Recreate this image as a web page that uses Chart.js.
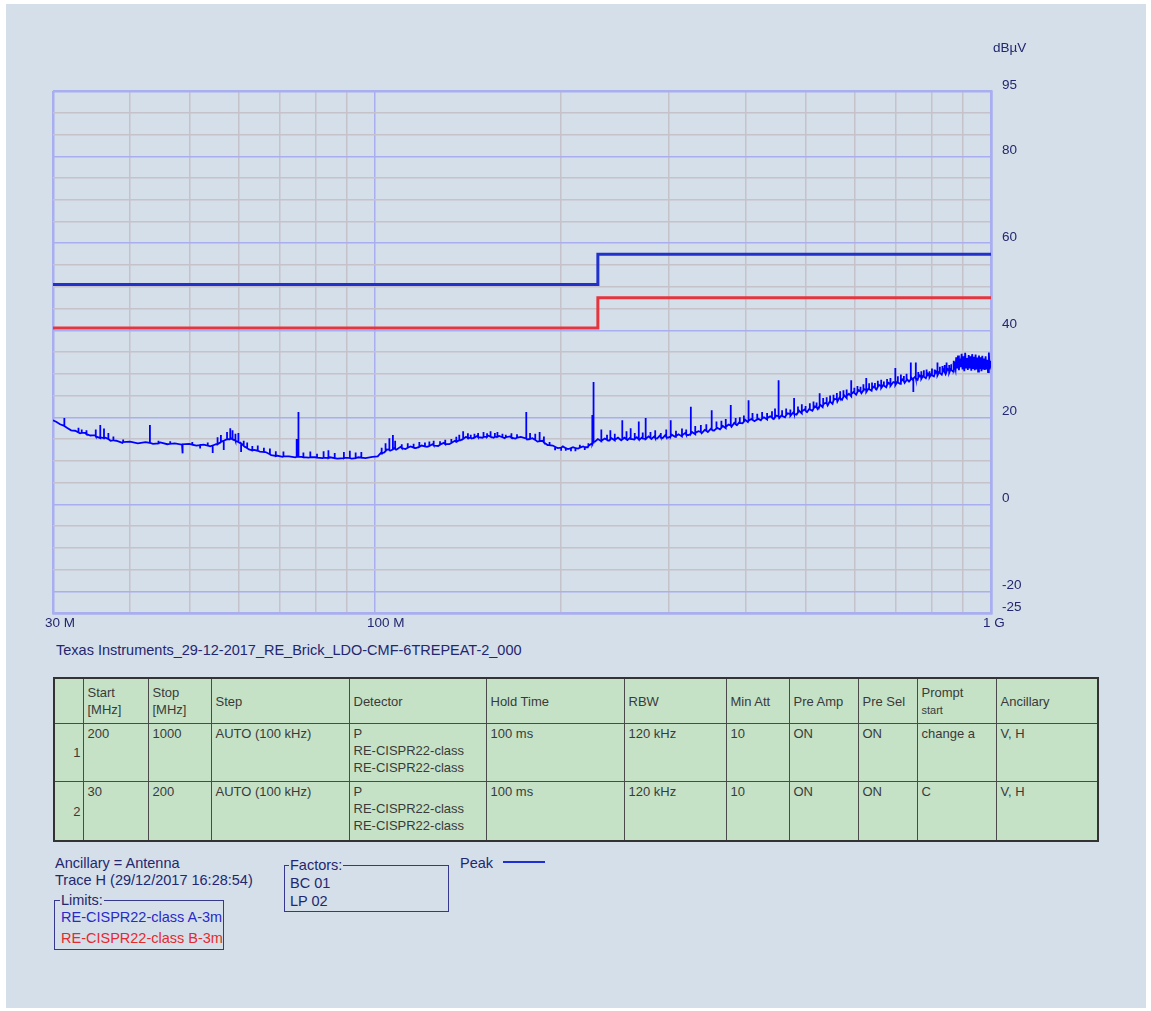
<!DOCTYPE html>
<html>
<head>
<meta charset="utf-8">
<title>RE scan</title>
<script src="https://cdn.jsdelivr.net/npm/chart.js@4.4.1/dist/chart.umd.min.js"></script>
<style>
  html, body { margin: 0; padding: 0; background: #fff; }
  body { width: 1151px; height: 1011px; position: relative; overflow: hidden; font-family: "Liberation Sans", Arial, sans-serif; }
  #page { position: absolute; left: 6px; top: 4px; width: 1140px; height: 1004px; background: #d5dfe9; }
  #emc { position: absolute; left: 0; top: 0; }
  .txt { position: absolute; color: #23276f; font-size: 14.5px; line-height: 17px; white-space: nowrap; }
  #unit { left: 993px; top: 39px; font-size: 13.5px; }
  #runName { left: 56px; top: 642px; }
  #setup { position: absolute; left: 53px; top: 677px; width: 1045px; table-layout: fixed; border-collapse: collapse;
           background: #c5e2c7; border: 2px solid #333; font-size: 13px; color: #3a3a3a; }
  #setup th, #setup td { border: 1px solid #4a4a4a; text-align: left; font-weight: normal; padding: 1px 4px; line-height: 17px; white-space: nowrap; overflow: hidden; }
  #setup th { height: 42px; vertical-align: middle; }
  #setup td { vertical-align: top; }
  #setup tr.r1 td { height: 55px; }
  #setup tr.r2 td { height: 56px; }
  #setup td.n { text-align: right; vertical-align: middle; padding-right: 2px; }
  #setup small { font-size: 11px; line-height: 11px; }
  .box { position: absolute; border: 1.5px solid #35388c; }
  .boxTitle { position: absolute; top: -9px; background: #d5dfe9; padding: 0 1px; color: #23276f; font-size: 14.5px; line-height: 17px; }
  #peakLine { position: absolute; left: 503px; top: 861px; width: 42px; height: 2px; background: #1f2fd8; }
</style>
</head>
<body>
<div id="page"></div>
<canvas id="emc" width="1151" height="640"></canvas>
<div class="txt" id="unit">dBµV</div>
<div class="txt" id="runName">Texas Instruments_29-12-2017_RE_Brick_LDO-CMF-6TREPEAT-2_000</div>

<table id="setup">
  <colgroup>
    <col style="width:29px"><col style="width:65px"><col style="width:63px"><col style="width:138px">
    <col style="width:137px"><col style="width:138px"><col style="width:102px"><col style="width:63px">
    <col style="width:69px"><col style="width:59px"><col style="width:79px"><col style="width:102px">
  </colgroup>
  <tr>
    <th></th><th>Start<br>[MHz]</th><th>Stop<br>[MHz]</th><th>Step</th><th>Detector</th><th>Hold Time</th>
    <th>RBW</th><th>Min Att</th><th>Pre Amp</th><th>Pre Sel</th><th>Prompt<br><small>start</small></th><th>Ancillary</th>
  </tr>
  <tr class="r1">
    <td class="n">1</td><td>200</td><td>1000</td><td>AUTO (100 kHz)</td><td>P<br>RE-CISPR22-class<br>RE-CISPR22-class</td>
    <td>100 ms</td><td>120 kHz</td><td>10</td><td>ON</td><td>ON</td><td>change a</td><td>V, H</td>
  </tr>
  <tr class="r2">
    <td class="n">2</td><td>30</td><td>200</td><td>AUTO (100 kHz)</td><td>P<br>RE-CISPR22-class<br>RE-CISPR22-class</td>
    <td>100 ms</td><td>120 kHz</td><td>10</td><td>ON</td><td>ON</td><td>C</td><td>V, H</td>
  </tr>
</table>

<div class="txt" style="left:55px; top:855px;">Ancillary = Antenna</div>
<div class="txt" style="left:55px; top:872px;">Trace H (29/12/2017 16:28:54)</div>

<div class="box" style="left:54px; top:900px; width:168px; height:48px;">
  <span class="boxTitle" style="left:5px;">Limits:</span>
  <div class="txt" style="left:6px; top:8px; color:#2a2ac8;">RE-CISPR22-class A-3m</div>
  <div class="txt" style="left:6px; top:29px; color:#e42a2e;">RE-CISPR22-class B-3m</div>
</div>

<div class="box" style="left:284px; top:865px; width:163px; height:45px;">
  <span class="boxTitle" style="left:4px;">Factors:</span>
  <div class="txt" style="left:5px; top:9px;">BC 01</div>
  <div class="txt" style="left:5px; top:27px;">LP 02</div>
</div>

<div class="txt" style="left:460px; top:855px;">Peak</div>
<div id="peakLine"></div>

<script>
// Ejes: frecuencia en MHz (log), nivel en dBµV
const freqGrid = [30, 40, 50, 60, 70, 80, 90, 100, 200, 300, 400, 500, 600, 700, 800, 900, 1000]
const freqLabels = { 30: "30 M", 100: "100 M", 1000: "1 G" }
const levelGrid = [-25, -20, -15, -10, -5, 0, 5, 10, 15, 20, 25, 30, 35, 40, 45, 50, 55, 60, 65, 70, 75, 80, 85, 90, 95]
const levelLabels = [95, 80, 60, 40, 20, 0, -20, -25]

// Limites CISPR22 a 3 m (clase A / clase B)
const limitA = [[30, 50.5], [230, 50.5], [230, 57.5], [1000, 57.5]]
const limitB = [[30, 40.5], [230, 40.5], [230, 47.5], [1000, 47.5]]

// Traza de pico: nivel base [MHz, dBµV]
const traceBase = [
  [30, 19.3], [30.4, 18.9], [30.8, 18.4], [31.6, 17.6], [32.1, 17.0], [32.6, 16.9], [33.2, 16.3], [33.8, 16.4],
  [34.5, 15.8], [35.1, 15.9], [35.8, 15.2], [36.5, 15.3], [37.2, 14.6], [38.0, 14.6], [38.9, 14.1], [40.0, 14.4],
  [41.2, 14.0], [42.4, 14.3], [43.6, 13.9], [44.8, 14.2], [46.0, 13.8], [47.3, 14.0], [48.6, 13.7], [49.9, 13.9],
  [51.3, 13.5], [52.7, 13.7], [54.0, 13.3], [55.2, 13.8], [56.3, 14.4], [57.4, 14.9], [58.4, 15.1], [59.4, 14.6],
  [60.3, 14.1], [61.3, 13.3], [62.4, 12.6], [63.6, 12.5], [65.0, 12.1], [66.4, 12.0], [67.8, 11.3], [69.2, 11.2],
  [70.8, 10.9], [72.5, 11.0], [74.2, 10.8], [76.0, 10.9], [78.0, 10.7], [80.0, 10.8], [82.2, 10.6], [84.5, 10.8],
  [86.8, 10.5], [89.2, 10.7], [91.6, 10.5], [94.0, 10.8], [96.5, 10.6], [99.0, 10.9],
  [101.0, 11.0], [102.2, 11.8], [103.4, 11.9], [104.6, 12.6], [105.8, 12.3], [107.0, 13.0], [108.4, 12.6], [110.0, 13.2],
  [112.0, 12.7], [114.2, 13.3], [116.5, 12.9], [119.0, 13.5], [121.5, 13.2], [124.0, 13.8], [126.6, 13.4], [129.3, 14.1],
  [132.0, 13.8], [134.8, 14.6], [137.6, 14.7], [140.5, 15.5], [143.5, 15.1], [146.5, 15.7], [149.5, 15.3], [152.6, 15.8],
  [155.8, 15.3], [159.0, 15.7], [162.3, 15.2], [165.6, 15.6], [169.0, 15.1], [172.5, 15.5], [176.5, 14.9], [180.0, 15.2],
  [183.5, 14.4], [187.0, 14.6], [190.6, 13.6], [194.3, 13.5], [198.0, 12.9], [201.8, 13.3], [205.7, 12.7], [209.6, 13.1],
  [213.6, 12.8], [217.7, 13.3], [221.5, 13.1], [224.5, 13.9], [227.5, 14.4], [230.0, 15.0],
  [233, 14.5], [236, 15.1], [239, 14.6], [242, 15.2], [245, 14.7], [248, 15.3], [251, 14.7], [254, 15.3],
  [257, 14.8], [260, 15.4], [263, 14.9], [266, 15.4], [269, 14.9], [272, 15.5], [275, 15.0], [278, 15.6],
  [281, 15.0], [284, 15.6], [287, 15.1], [290, 15.8], [293, 15.2], [296, 15.9], [299, 15.3], [303, 16.0],
  [307, 15.5], [311, 16.1], [315, 15.6], [319, 16.4], [323, 15.9], [327, 16.6], [331, 16.1], [335, 16.8],
  [339, 16.3], [343, 17.1], [347, 16.6], [351, 17.4], [355, 16.9], [359, 17.7], [363, 17.2], [367, 18.0],
  [371, 17.5], [375, 18.3], [379, 17.8], [383, 18.7], [387, 18.2], [391, 19.0], [395, 18.6], [399, 19.4],
  [403, 18.9], [408, 19.6], [413, 19.1], [418, 19.8], [423, 19.3], [428, 20.0], [433, 19.5], [438, 20.2],
  [443, 19.6], [448, 20.4], [453, 19.8], [458, 20.6], [463, 20.0], [468, 20.9], [473, 20.3], [478, 21.2],
  [483, 20.6], [488, 21.5], [493, 20.9], [498, 21.8], [503, 21.2], [508, 22.1], [513, 21.5], [518, 22.5],
  [523, 21.9], [528, 22.9], [533, 22.3], [538, 23.3], [543, 22.7], [548, 23.8], [553, 23.1], [558, 24.2],
  [563, 23.6], [568, 24.6], [573, 24.0], [578, 25.0], [583, 24.4], [588, 25.4], [593, 24.8], [598, 25.8],
  [604, 25.2], [610, 26.2], [616, 25.5], [622, 26.5], [628, 25.8], [634, 26.8], [640, 26.1], [646, 27.1],
  [652, 26.4], [658, 27.4], [664, 26.7], [670, 27.6], [676, 26.9], [682, 27.9], [688, 27.2], [694, 28.1],
  [700, 27.4], [706, 28.4], [712, 27.7], [718, 28.7], [724, 27.9], [730, 28.9], [736, 28.2], [742, 29.2],
  [748, 28.4], [754, 29.4], [760, 28.6], [766, 29.6], [772, 28.8], [778, 29.8], [784, 29.0], [790, 30.0],
  [796, 29.2], [802, 30.2], [808, 29.4], [814, 30.5], [820, 29.6], [826, 30.7], [832, 29.8], [838, 30.9],
  [844, 30.0], [850, 31.1], [856, 30.2], [862, 31.4], [868, 30.5], [873, 32.0],
  [876, 31.0], [878, 33.8], [881, 31.2], [884, 34.2], [887, 30.8], [890, 33.5], [893, 31.5], [896, 34.6],
  [899, 31.0], [902, 34.0], [905, 30.6], [908, 34.8], [911, 31.4], [914, 33.6], [917, 30.9], [920, 34.3],
  [923, 31.2], [926, 34.0], [929, 30.7], [932, 34.5], [935, 31.3], [938, 33.9], [941, 30.8], [944, 34.4],
  [947, 31.0], [950, 33.7], [953, 30.5], [956, 34.2], [959, 31.1], [962, 33.8], [965, 30.6], [968, 34.1],
  [971, 31.2], [974, 33.5], [977, 30.9], [980, 34.0], [983, 31.0], [986, 33.2], [989, 30.4], [992, 34.9],
  [995, 31.0], [998, 33.0], [1000, 31.4],
]

// Picos (y caídas) sobre la traza: [MHz, nivel base, extremo]
const traceSpikes = [
  [31.3, 18.0, 19.8], [33.0, 16.5, 17.6], [33.4, 16.4, 17.2], [34.0, 16.1, 17.0], [35.2, 15.6, 17.2],
  [35.8, 15.4, 18.2], [36.3, 15.2, 17.4], [36.9, 15.0, 16.4], [37.6, 14.7, 15.6], [39.0, 14.3, 14.9],
  [43.1, 14.1, 18.2], [44.5, 14.0, 14.6], [46.5, 13.9, 14.5], [48.7, 13.8, 11.7], [50.5, 13.7, 14.3],
  [52.0, 13.6, 12.8], [53.5, 13.5, 14.2], [54.5, 13.5, 11.8], [55.5, 13.8, 15.4], [56.2, 14.3, 15.9],
  [56.8, 14.6, 12.5], [57.5, 14.9, 16.6], [58.2, 15.0, 17.5], [58.7, 14.9, 17.0], [59.3, 14.7, 16.2],
  [60.0, 14.3, 16.4], [60.6, 14.0, 12.0], [61.2, 13.4, 14.6], [62.0, 12.9, 14.2], [63.2, 12.4, 13.4],
  [64.5, 12.3, 13.5], [66.0, 12.0, 13.0], [67.5, 11.5, 12.8], [69.0, 11.1, 12.2], [71.0, 11.0, 12.1],
  [74.6, 10.9, 15.0], [75.1, 10.9, 21.2], [76.5, 10.8, 11.9], [78.5, 10.8, 12.1], [80.5, 10.7, 11.6],
  [82.5, 10.7, 12.2], [84.0, 10.6, 12.4], [86.0, 10.6, 11.8], [89.0, 10.6, 12.0], [91.0, 10.6, 12.3],
  [93.0, 10.6, 11.9], [95.0, 10.7, 12.0],
  [102.5, 11.7, 13.0], [104.0, 12.2, 14.0], [105.5, 12.5, 15.2], [106.9, 12.6, 15.9], [107.8, 12.7, 14.6],
  [110.5, 12.9, 13.8], [113.0, 13.0, 14.0], [115.5, 13.0, 13.9], [118.0, 13.2, 14.3], [120.5, 13.3, 14.2],
  [122.5, 13.4, 14.4], [124.5, 13.5, 14.6], [127.5, 13.7, 14.5], [130.0, 13.8, 14.8], [133.0, 14.1, 15.0],
  [135.5, 14.4, 15.5], [137.0, 14.7, 16.0], [139.0, 15.0, 16.8], [141.5, 15.2, 16.3], [143.0, 15.3, 16.0],
  [145.0, 15.3, 16.2], [147.0, 15.4, 16.4], [150.0, 15.5, 16.6], [152.0, 15.5, 16.3], [154.0, 15.5, 16.8],
  [156.5, 15.5, 16.4], [158.0, 15.5, 16.6], [161.0, 15.4, 16.2], [163.0, 15.4, 16.0], [166.5, 15.3, 16.3],
  [170.0, 15.3, 16.1], [176.0, 15.1, 21.2], [178.5, 15.0, 16.4], [182.0, 14.8, 16.2], [185.0, 14.5, 16.6],
  [188.0, 14.2, 15.6], [192.0, 13.6, 14.3], [196.0, 13.2, 12.4], [200.5, 13.0, 12.3], [204.0, 12.9, 12.3],
  [208.0, 12.9, 12.2], [211.5, 12.9, 12.2], [215.0, 13.0, 13.7], [219.0, 13.1, 12.5], [222.0, 13.4, 14.0],
  [225.3, 13.8, 20.5], [225.9, 14.2, 28.1], [226.6, 14.4, 20.9],
  [233, 14.6, 17.2], [238, 14.8, 16.0], [241, 14.9, 17.0], [245, 14.8, 16.2], [252, 14.9, 19.3],
  [256, 14.9, 16.8], [260, 15.0, 17.5], [264, 15.0, 16.4], [268, 14.9, 19.0], [272, 15.1, 16.5],
  [275, 15.0, 19.8], [280, 15.2, 16.6], [285, 15.2, 17.0], [291, 15.4, 16.4], [297, 15.5, 17.2],
  [302, 15.6, 19.3], [308, 15.7, 16.9], [315, 15.8, 17.4], [320, 16.0, 17.2], [325.6, 16.2, 22.4],
  [331, 16.4, 18.0], [338, 16.6, 18.2], [345, 16.9, 18.4], [352, 17.2, 21.6], [358, 17.4, 19.0],
  [365, 17.6, 19.2], [371, 17.8, 19.6], [378, 18.1, 22.8], [385, 18.4, 19.8], [391, 18.7, 20.0],
  [397, 19.0, 20.4], [404, 19.2, 23.9], [410, 19.4, 21.0], [417, 19.5, 20.8], [425, 19.7, 21.2],
  [433, 19.8, 21.0], [441, 19.9, 21.4], [446, 20.0, 22.0], [452, 20.2, 28.5], [458, 20.3, 21.6],
  [465, 20.5, 22.0], [472, 20.7, 21.8], [479, 20.8, 24.4], [486, 21.1, 22.5], [493, 21.3, 23.0],
  [500, 21.5, 22.6], [508, 21.8, 23.2], [515, 22.0, 23.6], [521, 22.3, 23.4], [527, 22.6, 25.5],
  [534, 22.9, 24.4], [541, 23.2, 24.6], [548, 23.6, 25.0], [555, 23.9, 25.2], [562, 24.1, 25.6],
  [569, 24.4, 26.0], [576, 24.7, 26.2], [583, 24.9, 26.4], [593, 25.3, 28.5], [600, 25.6, 26.8],
  [607, 25.8, 27.2], [614, 25.9, 27.0], [620, 26.1, 27.6], [627, 26.3, 29.0], [634, 26.5, 27.8],
  [641, 26.6, 28.0], [648, 26.8, 27.9], [655, 27.0, 28.4], [663, 27.1, 28.6], [670, 27.3, 28.2],
  [678, 27.4, 28.8], [686, 27.6, 29.0], [699, 27.9, 31.3], [706, 28.0, 29.4], [714, 28.2, 29.8],
  [722, 28.3, 29.5], [729, 28.5, 30.0], [741, 28.7, 32.6], [748, 28.9, 25.8], [755, 29.0, 32.6],
  [762, 29.1, 30.4], [770, 29.2, 30.6], [778, 29.3, 30.8], [786, 29.4, 31.0], [794, 29.5, 30.6],
  [802, 29.6, 31.2], [810, 29.9, 31.0], [818, 30.0, 32.6], [826, 30.2, 31.6], [834, 30.3, 31.8],
  [841, 30.4, 32.0], [847, 30.5, 32.6], [855, 30.7, 32.0], [862, 30.9, 32.2], [870, 31.2, 33.0],
]

const navy = "#23276f"
const gridBlue = "#a9aef0"
const gridGray = "#c5c2c9"
const font = { family: "'Liberation Sans', Arial, sans-serif", size: 13.5 }

// Montamos la traza: base + cada pico como segmento vertical
const tracePoints = traceBase.map(([f, v]) => ({ x: f, y: v }))
traceSpikes.forEach(([f, base, top]) => {
  tracePoints.push({ x: f, y: base }, { x: f, y: top }, { x: f, y: base })
})
tracePoints.sort((a, b) => a.x - b.x)

const toXY = (arr) => arr.map(([f, v]) => ({ x: f, y: v }))

new Chart(document.getElementById("emc"), {
  type: "line",
  data: {
    datasets: [
      { label: "Peak", data: tracePoints, borderColor: "#0000ff", borderWidth: 1.8, pointRadius: 0, tension: 0 },
      { label: "RE-CISPR22-class A-3m", data: toXY(limitA), borderColor: "#2131cc", borderWidth: 3, pointRadius: 0, tension: 0 },
      { label: "RE-CISPR22-class B-3m", data: toXY(limitB), borderColor: "#e5363f", borderWidth: 3, pointRadius: 0, tension: 0 },
    ],
  },
  options: {
    responsive: false,
    animation: false,
    layout: { padding: { left: 53, top: 91, right: 100, bottom: 7 } },
    plugins: { legend: { display: false }, tooltip: { enabled: false } },
    scales: {
      x: {
        type: "logarithmic",
        min: 30,
        max: 1000,
        afterBuildTicks: (axis) => { axis.ticks = freqGrid.map((v) => ({ value: v })) },
        afterFit: (scale) => { scale.height = 20 },
        grid: {
          drawTicks: false,
          color: (ctx) => ([30, 100, 1000].includes(ctx.tick.value) ? gridBlue : gridGray),
          lineWidth: (ctx) => ([30, 1000].includes(ctx.tick.value) ? 2.5 : 1.5),
        },
        border: { color: gridBlue, width: 2.5 },
        ticks: {
          autoSkip: false,
          maxRotation: 0,
          align: "start",
          labelOffset: -8,
          padding: 2,
          color: navy,
          font: font,
          callback: (value) => freqLabels[value] || "",
        },
      },
      y: {
        position: "right",
        min: -25,
        max: 95,
        afterBuildTicks: (axis) => { axis.ticks = levelGrid.map((v) => ({ value: v })) },
        afterFit: (scale) => { scale.width = 60 },
        grid: {
          drawTicks: false,
          color: (ctx) => (ctx.tick.value % 20 === 0 || ctx.tick.value === 95 || ctx.tick.value === -25 ? gridBlue : gridGray),
          lineWidth: (ctx) => (ctx.tick.value === 95 || ctx.tick.value === -25 ? 2.5 : 1.5),
        },
        border: { color: gridBlue, width: 2.5 },
        ticks: {
          autoSkip: false,
          padding: 11,
          labelOffset: -6,
          color: navy,
          font: font,
          callback: (value) => (levelLabels.includes(value) ? String(value) : ""),
        },
      },
    },
  },
})
</script>
</body>
</html>
